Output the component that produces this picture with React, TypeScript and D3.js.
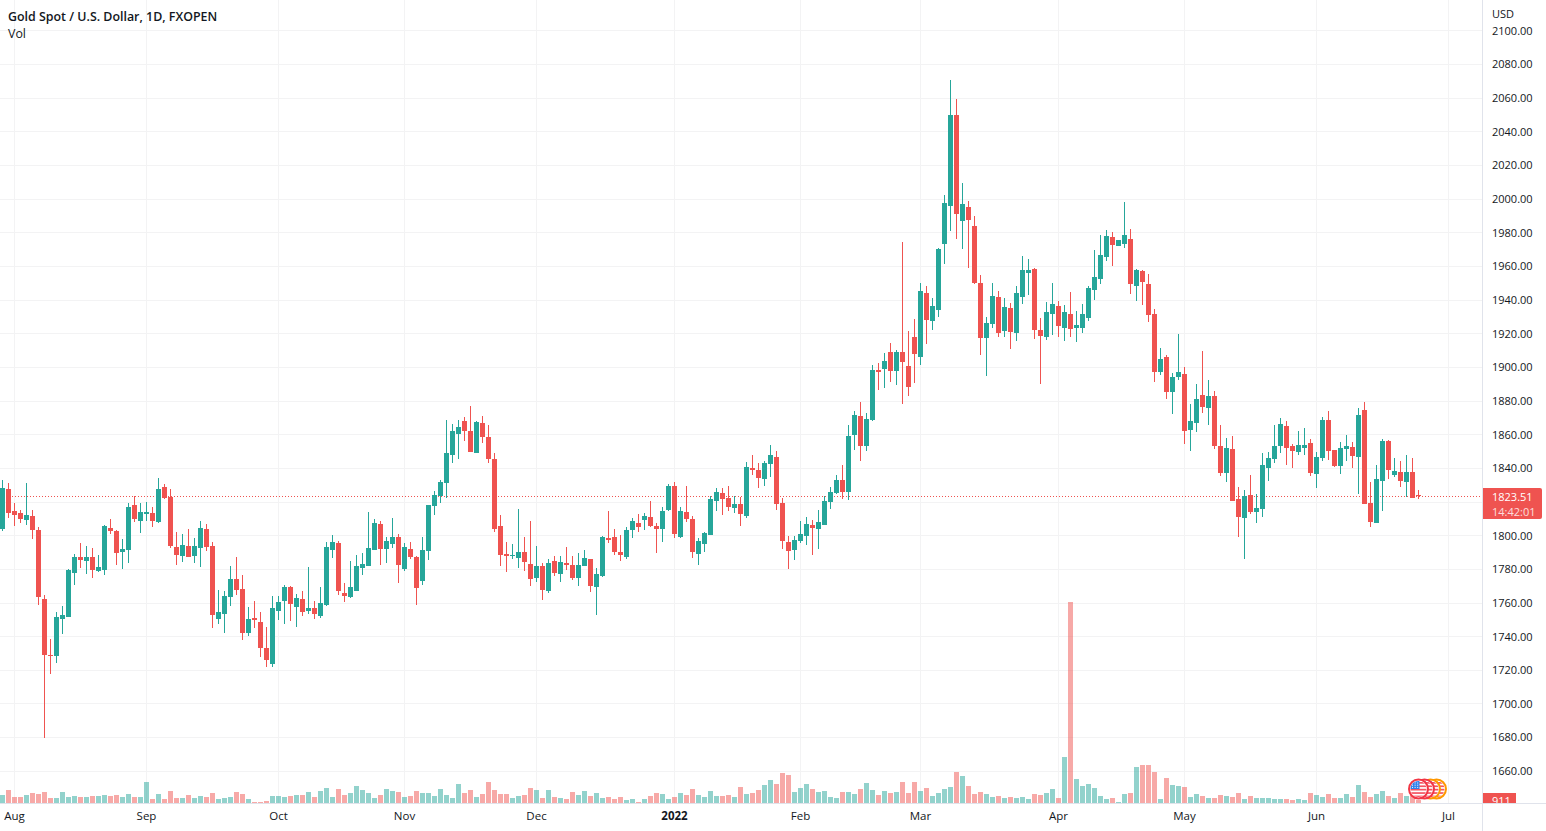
import * as d3 from 'd3';

const opens = [
  1803.8, 1827.5, 1814.5, 1813.3, 1809.1, 1811.5, 1803.2, 1762.2, 1728.9, 1728.3,
  1750.3, 1751.5, 1777.6, 1787.1, 1784.8, 1787.1, 1778.8, 1779.4, 1804.4, 1802.6,
  1790.1, 1791.3, 1818, 1808.5, 1812.7, 1813.3, 1807.9, 1828.7, 1822.8, 1793.1,
  1787.7, 1793.7, 1787.7, 1792.5, 1803.8, 1793.7, 1750.3, 1753.3, 1763.4, 1774.1,
  1768.1, 1742, 1750.9, 1748.5, 1733.1, 1723.6, 1755.1, 1761, 1769.3, 1757.4,
  1762.2, 1755.1, 1756.9, 1752.1, 1758.6, 1791.3, 1795.5, 1765.8, 1763.4, 1767,
  1780.6, 1781.8, 1791.3, 1806.7, 1791.9, 1794.9, 1799, 1780, 1791.9, 1787.1,
  1772.9, 1790.7, 1817.4, 1823.4, 1831.1, 1847.7, 1860.2, 1867.9, 1862, 1848.9,
  1866.7, 1858.4, 1845.3, 1805.5, 1788.9, 1787.7, 1786.5, 1790.1, 1783, 1774.6,
  1781.8, 1766.9, 1784.8, 1777, 1783.6, 1782.4, 1774.6, 1781.8, 1785.9, 1769.3,
  1775.8, 1798.4, 1799, 1790.1, 1787.1, 1803.2, 1807.3, 1809.1, 1810.9, 1805.5,
  1803.8, 1815, 1829.3, 1799, 1813.9, 1809.7, 1788.9, 1794.8, 1800.2, 1820.4,
  1825.4, 1822.4, 1816.5, 1818.8, 1811.7, 1840.2, 1839, 1833.7, 1842.6, 1846.8,
  1819.4, 1796.3, 1791.5, 1796.9, 1799.8, 1806.4, 1804, 1806.4, 1820, 1825.4,
  1833.1, 1826, 1859.8, 1871.1, 1853.3, 1868.7, 1898.4, 1899, 1909.1, 1897.8,
  1909.3, 1901, 1918.2, 1906.3, 1944.3, 1927.7, 1934.2, 1973.4, 1996, 2050.1,
  1987.1, 1995.4, 1984.1, 1950.3, 1917.6, 1925.9, 1942, 1921.8, 1935.4, 1920.6,
  1942, 1956.2, 1958.6, 1922.4, 1918.2, 1931.9, 1936.6, 1923.5, 1931.9, 1923.5,
  1923.5, 1929.5, 1946.1, 1952.7, 1965.7, 1977.6, 1972.3, 1973.4, 1976.4, 1948.5,
  1957.4, 1949.7, 1931.7, 1897.2, 1906.1, 1885.3, 1894.2, 1896, 1862.8, 1866.9,
  1883.5, 1875.8, 1883, 1853.3, 1837.2, 1851.5, 1821.8, 1810.5, 1824.2, 1814.1,
  1815.8, 1840.2, 1845.5, 1853.3, 1865.1, 1853.3, 1849.7, 1852, 1855, 1836.6,
  1846.1, 1868.7, 1850.9, 1841.4, 1851.5, 1852.6, 1846.7, 1874.6, 1819.4, 1807.5,
  1832.4, 1856.2, 1836, 1837.8, 1831.9, 1837.8, 1824.1,
];

const closes = [
  1828.1, 1813.3, 1812.5, 1809.7, 1812.1, 1803.2, 1763.4, 1728.9, 1728.3, 1751.5,
  1752.7, 1779.4, 1787.1, 1785.4, 1787.1, 1779.4, 1781.2, 1805.6, 1802.6, 1789.5,
  1791.9, 1816.8, 1809.7, 1813.9, 1813.9, 1808.5, 1827.5, 1822.2, 1793.7, 1788.3,
  1794.3, 1787.1, 1793.7, 1804.4, 1793.1, 1752.7, 1754.5, 1764, 1774.1, 1767.5,
  1742, 1750.3, 1749.7, 1733.1, 1726, 1756.9, 1760.4, 1769.3, 1759.2, 1762.8,
  1754.5, 1756.9, 1753.3, 1759.8, 1793.1, 1796, 1767, 1764, 1769.3, 1781.8,
  1783, 1792.5, 1807.3, 1791.9, 1796.6, 1799, 1782.4, 1793.1, 1787.1, 1768.7,
  1791.3, 1818, 1824, 1831.7, 1848.9, 1862, 1864.4, 1862, 1849.5, 1867.3,
  1858.4, 1845.4, 1803.8, 1788.3, 1787.7, 1788.3, 1790.1, 1784.2, 1774, 1781.8,
  1767.5, 1783.6, 1777.6, 1784.2, 1782.4, 1774.6, 1782.4, 1786.5, 1769.9, 1777,
  1799, 1797.2, 1790.1, 1788.3, 1803.2, 1808.5, 1805, 1811.5, 1805.5, 1803.8,
  1814.4, 1829.3, 1800.8, 1814.4, 1809.7, 1790.1, 1796.6, 1801.4, 1821.6, 1825.7,
  1821.8, 1817.1, 1818.8, 1812.9, 1840.8, 1839, 1834.3, 1843.2, 1848, 1818.8,
  1796.9, 1790.9, 1797.5, 1801, 1807, 1804.6, 1808.2, 1820.6, 1826, 1833.1,
  1826, 1859.2, 1871.7, 1853.3, 1869.3, 1898.4, 1897.3, 1903.8, 1897.8, 1909.1,
  1903.4, 1888.5, 1908.1, 1945.5, 1928.3, 1936.6, 1970.5, 1997.8, 2050.1, 1991.3,
  1997.2, 1987.7, 1950.3, 1917.6, 1926.5, 1942.6, 1920.6, 1936, 1921.2, 1944.3,
  1958, 1958, 1922.4, 1918.8, 1933, 1937.8, 1924.7, 1933, 1923, 1925.3,
  1931.9, 1947.3, 1953.8, 1966.9, 1978.2, 1972.9, 1975.8, 1978.8, 1949.7, 1958,
  1950.9, 1931.3, 1897.2, 1904.9, 1885.3, 1894.2, 1897.2, 1862.2, 1868.1, 1881.2,
  1876.4, 1883, 1853.3, 1837.2, 1852.1, 1820.6, 1811.1, 1823.6, 1814.1, 1816.4,
  1842, 1846.1, 1853.3, 1866.3, 1852.1, 1850.3, 1853.9, 1853.8, 1837.2, 1846.7,
  1868.7, 1850.3, 1841.4, 1852, 1853.2, 1847.3, 1871.6, 1818.8, 1808.1, 1833.6,
  1856.2, 1839, 1838.4, 1832.4, 1837.8, 1822.3, 1823.51,
];

const highs = [
  1832.9, 1831.1, 1819.2, 1815.1, 1831.1, 1815.1, 1805, 1764.6, 1738.4, 1754.5,
  1758, 1780, 1788.9, 1795.5, 1793.7, 1792.5, 1788.3, 1806.1, 1809.7, 1803.2,
  1797.8, 1819.2, 1823.4, 1819.2, 1819.8, 1816.8, 1834.1, 1830.5, 1827.5, 1802,
  1800.8, 1803.8, 1798.4, 1808.5, 1806.7, 1796, 1767.5, 1767, 1781.8, 1787.1,
  1776.4, 1757.4, 1761, 1754.5, 1745.6, 1764, 1764, 1770.5, 1769.9, 1765.2,
  1767, 1781.2, 1761, 1769.3, 1796, 1800.2, 1796.6, 1771.7, 1784.8, 1788.3,
  1789.5, 1813.9, 1809.7, 1808.5, 1799, 1810.3, 1800.8, 1795.5, 1796, 1787.7,
  1799, 1818, 1826.3, 1832.9, 1868.5, 1866.1, 1868.5, 1870.3, 1876.8, 1867.9,
  1870.9, 1865.6, 1848.9, 1812.1, 1796, 1794.8, 1815.6, 1799, 1808.5, 1793.7,
  1783.6, 1785.9, 1787.7, 1787.7, 1793.1, 1787.7, 1789.5, 1791.3, 1785.9, 1780.6,
  1799.6, 1814.4, 1803.8, 1800.2, 1804.9, 1810.3, 1812.7, 1813.3, 1820.4, 1807.3,
  1816.8, 1830.5, 1831.7, 1816.8, 1829.3, 1811.5, 1798.4, 1802, 1823.4, 1828.1,
  1828.3, 1829.5, 1823.6, 1823, 1843.8, 1848, 1843.2, 1844.4, 1853.9, 1850.3,
  1822.4, 1799.8, 1799.8, 1808.7, 1811.1, 1809.3, 1815.3, 1823.6, 1828.9, 1836.1,
  1842, 1865.8, 1874.1, 1879.4, 1872.9, 1901.4, 1902.6, 1908.5, 1914.5, 1910.3,
  1974.6, 1921.8, 1928.9, 1950.3, 1948.5, 1941.4, 1971.1, 2002.6, 2070.9, 2059.6,
  2009.7, 1999, 1990.1, 1955, 1930.1, 1950.3, 1945.5, 1941.4, 1938.4, 1948.5,
  1966.3, 1964.5, 1959.2, 1929.5, 1939, 1950.3, 1939.6, 1937.2, 1944.9, 1933.6,
  1937.8, 1948.5, 1969.9, 1978.8, 1981.8, 1980.6, 1975.8, 1998.4, 1982.4, 1958.6,
  1958, 1955.6, 1934.6, 1911.5, 1907.3, 1896.6, 1919.8, 1900.2, 1878.2, 1890.1,
  1909.7, 1892.5, 1885.9, 1865.7, 1858, 1859.2, 1828.9, 1827.1, 1836, 1824.7,
  1849.1, 1849.7, 1865.7, 1869.9, 1868.1, 1854.4, 1862.2, 1863.9, 1857.4, 1849.7,
  1870.5, 1874, 1850.9, 1855.6, 1859.8, 1855.6, 1875.8, 1879.4, 1831.9, 1841.9,
  1857.4, 1856.8, 1846.1, 1844.3, 1847.9, 1846.1, 1827.1,
];

const lows = [
  1803, 1810.3, 1805.6, 1807.3, 1806.1, 1797.8, 1758.6, 1679.6, 1717.6, 1724.2,
  1741.4, 1751.5, 1770.5, 1780.6, 1777, 1774.7, 1778.2, 1776.4, 1800.8, 1782.4,
  1780, 1783.6, 1807.9, 1801.4, 1808.5, 1805, 1807.3, 1821.6, 1792.5, 1782.4,
  1784.2, 1787.1, 1783.6, 1781.2, 1790.7, 1745, 1747.3, 1742, 1758, 1764.6,
  1737.8, 1740.2, 1745, 1727.7, 1721.8, 1721.8, 1749.7, 1747.3, 1749.1, 1745.6,
  1752.1, 1753.3, 1750.3, 1750.9, 1758, 1786.6, 1764.6, 1760.4, 1762.8, 1767,
  1776.4, 1781.8, 1791.3, 1782.4, 1783.6, 1792.5, 1771.7, 1778.8, 1785.9, 1758.6,
  1770.5, 1785.4, 1812.1, 1819.2, 1822.2, 1843, 1845.4, 1856, 1849.5, 1848.9,
  1854.9, 1843, 1802, 1781.8, 1778.2, 1785.9, 1780.6, 1778.8, 1769.9, 1772.3,
  1761.6, 1765.7, 1775.8, 1772.3, 1779.4, 1773.5, 1769.9, 1781.8, 1766.3, 1752.7,
  1775.2, 1795.4, 1788.3, 1784.7, 1785.9, 1798.4, 1802, 1803.2, 1805, 1789.5,
  1796, 1814.4, 1798.4, 1798.4, 1807.9, 1786.5, 1782.4, 1790.1, 1800.2, 1814.4,
  1812.3, 1814.7, 1813.5, 1805.8, 1810.5, 1836, 1828.3, 1829.5, 1834.9, 1815.3,
  1792.1, 1780.2, 1785.6, 1795.7, 1794.5, 1788.6, 1792.1, 1806.4, 1815.9, 1824.8,
  1821.8, 1821.2, 1850.9, 1844.4, 1850.3, 1868.1, 1886.6, 1887.7, 1891.3, 1889.5,
  1878.2, 1883.2, 1890.9, 1901.6, 1914, 1922.4, 1930.1, 1961.6, 1981.2, 1976.4,
  1970.5, 1959.2, 1949.7, 1907.5, 1895, 1923.5, 1918.2, 1918.2, 1911.1, 1915.8,
  1937.8, 1943.2, 1917, 1890.3, 1916.4, 1919.4, 1918.2, 1915.8, 1918.2, 1915.2,
  1920.6, 1927.7, 1940.2, 1949.7, 1963.3, 1960.4, 1972.3, 1971.1, 1943.7, 1939.6,
  1937.2, 1927.1, 1891.3, 1895.4, 1881.2, 1872.3, 1892.5, 1854.4, 1850.3, 1861.6,
  1872.9, 1865.7, 1851.5, 1835.4, 1831.9, 1820.6, 1799.2, 1786.1, 1812.9, 1807.5,
  1811.1, 1832.5, 1843.2, 1849.1, 1842, 1840.2, 1847.9, 1847.9, 1835.4, 1828.3,
  1844.3, 1844.9, 1840.6, 1836.6, 1844.3, 1840.2, 1824.7, 1818.8, 1805.1, 1807.5,
  1814.6, 1833.6, 1834.8, 1828.9, 1822.9, 1822.3, 1821.8,
];

const volumes = [
  2500, 4000, 1900, 1900, 2500, 3100, 2800, 3400, 1600, 1600,
  3400, 1900, 2200, 1900, 1900, 2200, 2200, 2500, 2200, 2500,
  1900, 2800, 1900, 1900, 6400, 1300, 2800, 1300, 3700, 1600,
  1600, 2500, 1600, 2200, 1900, 3100, 1300, 1600, 1900, 3400,
  2800, 1300, 400, 400, 700, 2200, 2200, 1900, 2200, 2500,
  2500, 3400, 1900, 3700, 4600, 1900, 4300, 2500, 3100, 5200,
  4000, 3100, 1600, 2500, 4300, 3700, 3400, 1900, 2200, 3700,
  3100, 3100, 2200, 4300, 2500, 1600, 5800, 3100, 4000, 1900,
  2800, 6400, 4000, 2800, 2800, 1600, 2200, 2500, 4600, 4000,
  1600, 4000, 1900, 1600, 1300, 3400, 2500, 3700, 2200, 3100,
  1600, 1900, 1300, 1900, 1000, 1300, 400, 1300, 2200, 3100,
  2800, 1300, 1900, 3100, 2500, 4300, 2500, 1900, 3700, 2200,
  2200, 2500, 1900, 4900, 2800, 3100, 4000, 5500, 7000, 5800,
  9100, 8500, 3400, 4600, 5800, 4300, 3400, 3700, 1900, 1600,
  3400, 3400, 2800, 4300, 6100, 4000, 2500, 3700, 3100, 3400,
  6400, 3100, 6400, 3700, 4600, 2200, 3100, 4300, 4900, 9400,
  8200, 5200, 2800, 3400, 2800, 1900, 2200, 1600, 1900, 1600,
  1900, 1300, 2800, 2500, 3100, 4300, 1600, 13900, 60300, 7300,
  5200, 5800, 4600, 2200, 1300, 1600, 400, 2800, 3100, 10900,
  11500, 11500, 9400, 1300, 7600, 5500, 5200, 4900, 1900, 2800,
  2200, 1600, 1600, 2500, 2200, 1900, 3100, 1300, 2200, 1600,
  1600, 1600, 1300, 1300, 1300, 1000, 1300, 1000, 3100, 2500,
  1900, 2800, 1600, 1600, 2800, 1900, 5500, 3400, 1900, 2800,
  3700, 2200, 1600, 3100, 2200, 2400, 911,
];

const priceTicks = [
  2100, 2080, 2060, 2040, 2020, 2000, 1980, 1960, 1940, 1920, 1900, 1880,
  1860, 1840, 1820, 1800, 1780, 1760, 1740, 1720, 1700, 1680, 1660,
];
// 1820 has a grid line but its label is covered by the last price box
const hiddenPriceLabels = [1820];
const monthLabels = ['Aug', 'Sep', 'Oct', 'Nov', 'Dec', '2022', 'Feb', 'Mar', 'Apr', 'May', 'Jun', 'Jul'];
const monthBars = [2, 24, 46, 67, 89, 112, 133, 153, 176, 197, 219, 241];
const lastPrice = 1823.51;
const eventBars = [239, 238, 237, 236];
const eventColors = ['#ff9800', '#ff9800', '#f23645', '#f23645'];

const UP = '#26a69a';
const DOWN = '#ef5350';
const GRID = '#f3f3f4';
const BORDER = '#e0e3eb';
const TEXT = '#131722';
const FONT = '"Open Sans", sans-serif';

const width = 1546;
const height = 831;
const plotRight = 1482;
const plotBottom = 803;

// one bar every 6px, first bar centred at 2.5
const x = d3.scaleLinear().domain([0, 241]).range([2.5, 1448.5]);
const y = d3.scaleLinear().domain([1660, 2100]).range([771.3, 30.8]);
const yVol = d3.scaleLinear().domain([0, d3.max(volumes)!]).range([plotBottom, 602]);
const fmt = d3.format('.2f');
const line = (v: number) => Math.floor(v) + 0.5;

function EventFlag({ bar, color, id }: { bar: number; color: string; id: string }) {
  const cx = x(bar);
  const cy = 789;
  const stripes = d3.range(-7, 8, 3.4);
  const dots = d3.range(0, 9);
  return (
    <g>
      <clipPath id={id}>
        <circle cx={cx} cy={cy} r={8} />
      </clipPath>
      <circle cx={cx} cy={cy} r={9.5} fill="#fff" stroke={color} strokeWidth={2} />
      <g clipPath={`url(#${id})`}>
        {stripes.map((s) => (
          <rect key={s} x={cx - 9} y={cy + s} width={18} height={1.7} fill="#f23645" opacity={0.85} />
        ))}
        <rect x={cx - 9} y={cy - 9} width={10} height={9} fill="#2f80ed" />
        {dots.map((d) => (
          <rect key={d} x={cx - 6.5 + (d % 3) * 2.6} y={cy - 6.5 + Math.floor(d / 3) * 2.2} width={1} height={1} fill="#fff" />
        ))}
      </g>
    </g>
  );
}

export default function App() {
  const lastY = line(y(lastPrice));
  return (
    <svg
      width={width}
      height={height}
      style={{ position: 'fixed', left: 0, top: 0, display: 'block', background: '#fff', fontFamily: FONT }}
    >
      <defs>
        <clipPath id="plot">
          <rect x={0} y={0} width={plotRight} height={plotBottom} />
        </clipPath>
        <clipPath id="volLabel">
          <rect x={1483} y={793} width={34} height={10} />
        </clipPath>
      </defs>

      <g stroke={GRID} strokeWidth={1} shapeRendering="crispEdges">
        {priceTicks.map((p) => (
          <line key={p} x1={0} x2={plotRight} y1={line(y(p))} y2={line(y(p))} />
        ))}
        {monthBars.map((b) => (
          <line key={b} x1={line(x(b))} x2={line(x(b))} y1={0} y2={plotBottom} />
        ))}
      </g>

      <g clipPath="url(#plot)">
        <g shapeRendering="crispEdges">
          {volumes.map((v, i) => (
            <rect
              key={i}
              x={x(i) - 2.5}
              y={Math.round(yVol(v))}
              width={5}
              height={plotBottom - Math.round(yVol(v))}
              fill={closes[i] >= opens[i] ? UP : DOWN}
              opacity={0.5}
            />
          ))}
        </g>

        <line
          x1={0}
          x2={plotRight}
          y1={lastY}
          y2={lastY}
          stroke={DOWN}
          strokeWidth={1}
          strokeDasharray="1 2"
          shapeRendering="crispEdges"
        />

        <g shapeRendering="crispEdges">
          {opens.map((o, i) => {
            const c = closes[i];
            const color = c >= o ? UP : DOWN;
            const top = Math.round(y(Math.max(o, c)));
            const bottom = Math.round(y(Math.min(o, c)));
            return (
              <g key={i}>
                <rect
                  x={x(i) - 0.5}
                  y={Math.round(y(highs[i]))}
                  width={1}
                  height={Math.max(1, Math.round(y(lows[i])) - Math.round(y(highs[i])))}
                  fill={color}
                />
                <rect x={x(i) - 2.5} y={top} width={5} height={Math.max(1, bottom - top)} fill={color} />
              </g>
            );
          })}
        </g>

        {eventBars.map((b, i) => (
          <EventFlag key={b} bar={b} color={eventColors[i]} id={`flag${b}`} />
        ))}
      </g>

      <g stroke={BORDER} strokeWidth={1} shapeRendering="crispEdges">
        <line x1={0} x2={width} y1={plotBottom + 0.5} y2={plotBottom + 0.5} />
        <line x1={plotRight + 0.5} x2={plotRight + 0.5} y1={0} y2={height} />
      </g>

      <text x={8} y={20.5} fontSize={12.42} fontWeight={600} fill={TEXT}>
        Gold Spot / U.S. Dollar, 1D, FXOPEN
      </text>
      <text x={8} y={37.5} fontSize={12.4} fill={TEXT}>
        Vol
      </text>

      <text x={1492} y={17.5} fontSize={11} fill={TEXT}>
        USD
      </text>
      <g fontSize={11} fill={TEXT}>
        {priceTicks
          .filter((p) => !hiddenPriceLabels.includes(p))
          .map((p) => (
            <text key={p} x={1492} y={y(p)} dy="0.35em">
              {fmt(p)}
            </text>
          ))}
      </g>

      <g fontSize={11.5} fill={TEXT} textAnchor="middle">
        {monthLabels.map((m, i) => (
          <text key={m} x={x(monthBars[i])} y={820} fontWeight={m === '2022' ? 700 : 400}>
            {m}
          </text>
        ))}
      </g>

      <path d="M1483 488H1540a2 2 0 0 1 2 2V517a2 2 0 0 1 -2 2H1483Z" fill={DOWN} />
      <text x={1492} y={500.5} fontSize={11} fill="#fff">
        {fmt(lastPrice)}
      </text>
      <text x={1492} y={515.5} fontSize={11} fill="#fff" opacity={0.8}>
        14:42:01
      </text>

      <rect x={1483} y={793} width={33} height={10} fill={DOWN} />
      <text x={1492} y={805} fontSize={11} fill="#fff" clipPath="url(#volLabel)">
        {volumes[volumes.length - 1]}
      </text>
    </svg>
  );
}
